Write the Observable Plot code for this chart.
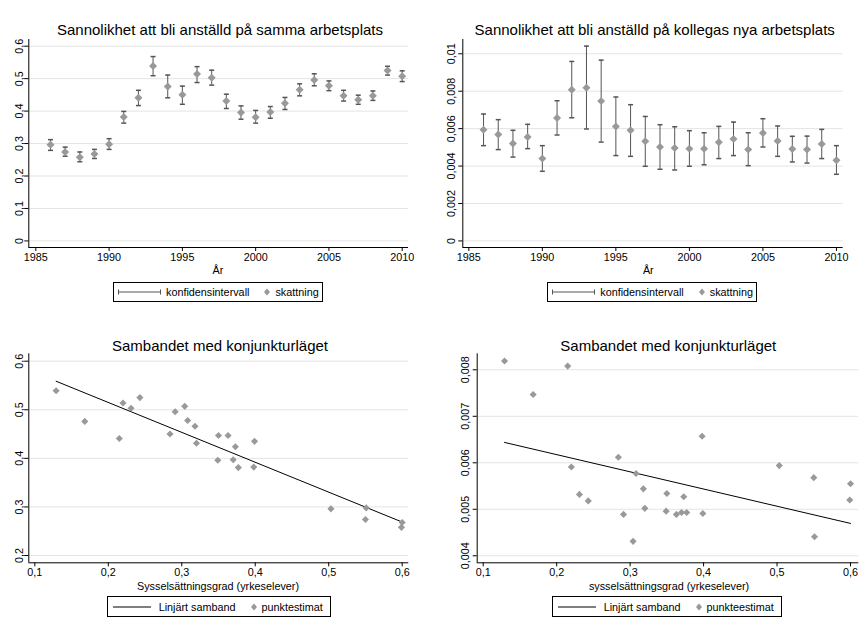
<!DOCTYPE html>
<html><head><meta charset="utf-8">
<script src="https://cdn.jsdelivr.net/npm/d3@7"></script>
<script src="https://cdn.jsdelivr.net/npm/@observablehq/plot@0.6"></script>
<style>
body{margin:0;background:#fff;font-family:"Liberation Sans",Arial,sans-serif;}
#root{position:relative;width:859px;height:625px;overflow:hidden;background:#fff}
.panel{position:absolute}
.title{position:absolute;font-size:15px;color:#000;white-space:nowrap;transform:translate(-50%,-50%)}
.xlab{position:absolute;font-size:10.8px;color:#000;white-space:nowrap;transform:translate(-50%,-50%)}
.legend{position:absolute;border:1px solid #000;box-sizing:border-box;display:flex;align-items:center;font-size:10.8px;white-space:nowrap;background:#fff}
.legend svg{display:block;overflow:visible}
svg{overflow:visible}
</style></head>
<body><div id="root"></div>
<script>
// ---- data ----
const years = [1986,1987,1988,1989,1990,1991,1992,1993,1994,1995,1996,1997,1998,1999,2000,2001,2002,2003,2004,2005,2006,2007,2008,2009,2010];
const sammaEst = [0.296,0.274,0.258,0.268,0.298,0.382,0.441,0.539,0.476,0.450,0.514,0.503,0.431,0.396,0.381,0.397,0.424,0.466,0.496,0.478,0.447,0.435,0.447,0.525,0.507];
const sammaLo  = [0.279,0.261,0.244,0.254,0.282,0.363,0.417,0.509,0.441,0.421,0.488,0.480,0.408,0.375,0.363,0.378,0.405,0.447,0.478,0.463,0.431,0.421,0.433,0.511,0.491];
const sammaHi  = [0.312,0.289,0.274,0.282,0.315,0.399,0.464,0.568,0.511,0.477,0.537,0.526,0.452,0.416,0.402,0.414,0.442,0.484,0.515,0.493,0.464,0.449,0.462,0.538,0.524];
const kollegaEst = [0.00594,0.00568,0.00520,0.00555,0.00441,0.00657,0.00808,0.00819,0.00747,0.00612,0.00591,0.00532,0.00502,0.00496,0.00493,0.00493,0.00527,0.00544,0.00489,0.00577,0.00534,0.00491,0.00489,0.00518,0.00431];
const kollegaLo  = [0.00509,0.00488,0.00448,0.00493,0.00372,0.00566,0.00658,0.00598,0.00528,0.00456,0.00452,0.00399,0.00383,0.00379,0.00399,0.00407,0.00440,0.00456,0.00402,0.00502,0.00452,0.00422,0.00416,0.00440,0.00356];
const kollegaHi  = [0.00678,0.00648,0.00591,0.00623,0.00509,0.00749,0.00959,0.01041,0.00966,0.00769,0.00728,0.00665,0.00621,0.00610,0.00589,0.00578,0.00612,0.00635,0.00578,0.00653,0.00614,0.00559,0.00560,0.00596,0.00509];
const syssGrad = [0.503,0.550,0.599,0.600,0.551,0.398,0.215,0.129,0.168,0.284,0.220,0.231,0.320,0.349,0.377,0.370,0.373,0.318,0.291,0.308,0.350,0.399,0.363,0.243,0.304];

const yearTicks = [1985,1990,1995,2000,2005,2010];
const sammaTicks = [0,0.1,0.2,0.3,0.4,0.5,0.6];
const kollegaTicks = [0,0.002,0.004,0.006,0.008,0.01];
const syssTicks = [0.1,0.2,0.3,0.4,0.5,0.6];
const sambSammaTicks = [0.2,0.3,0.4,0.5,0.6];
const sambKollegaTicks = [0.004,0.005,0.006,0.007,0.008];

const rows = years.map((year, i) => ({
  year, samma: sammaEst[i], sammaLo: sammaLo[i], sammaHi: sammaHi[i],
  kollega: kollegaEst[i], kollegaLo: kollegaLo[i], kollegaHi: kollegaHi[i],
  syss: syssGrad[i]
}));

// ---- helpers ----
const root = document.getElementById("root");
const fmt = d => String(d).replace(".", ",");
const capSymbol = {draw(ctx, size) { const w = Math.sqrt(size / Math.PI); ctx.moveTo(-w, 0); ctx.lineTo(w, 0); }};
const GRID = "#e4e4e4", CI = "#555", MARK = "#999";
const FONT = '"Liberation Sans", Arial, sans-serif';

function panel({left, top, width, height, mL, mR, mT, mB, xDomain, yDomain, xTicks, yTicks, yPad, marks}) {
  const chart = Plot.plot({
    width, height, marginLeft: mL, marginRight: mR, marginTop: mT, marginBottom: mB,
    x: {domain: xDomain, axis: null},
    y: {domain: yDomain, axis: null},
    style: {fontFamily: FONT, fontSize: "10.8px", color: "#000", background: "transparent", overflow: "visible", maxWidth: "none"},
    marks: [
      Plot.gridY(yTicks, {stroke: GRID, strokeOpacity: 1}),
      ...marks,
      Plot.ruleX([xDomain[0]], {stroke: "#000"}),
      Plot.ruleY([yDomain[0]], {stroke: "#000"}),
      Plot.axisX(xTicks, {tickSize: 4, tickPadding: 2, tickFormat: fmt, label: null}),
      Plot.axisY(yTicks, {tickSize: 4, tickPadding: yPad, tickRotate: -90, tickFormat: fmt, label: null})
    ]
  });
  const div = document.createElement("div");
  div.className = "panel";
  div.style.left = left + "px"; div.style.top = top + "px";
  div.appendChild(chart);
  root.appendChild(div);
}

function text(cls, str, x, y) {
  const d = document.createElement("div");
  d.className = cls; d.textContent = str;
  d.style.left = x + "px"; d.style.top = y + "px";
  root.appendChild(d);
}

const NS = "http://www.w3.org/2000/svg";
function svgEl(w, h, inner) {
  const s = document.createElementNS(NS, "svg");
  s.setAttribute("width", w); s.setAttribute("height", h);
  s.innerHTML = inner;
  return s;
}
function legend({left, top, width, height, kind, label1, label2, pad, sw, gap1, gap2, gap3}) {
  const d = document.createElement("div");
  d.className = "legend";
  Object.assign(d.style, {left: left + "px", top: top + "px", width: width + "px", height: height + "px", paddingLeft: pad + "px"});
  const line = kind === "ci"
    ? `<line x1="0.5" y1="5" x2="${sw - 0.5}" y2="5" stroke="${CI}" stroke-width="1"/><line x1="0.5" y1="2.5" x2="0.5" y2="7.5" stroke="${CI}"/><line x1="${sw - 0.5}" y1="2.5" x2="${sw - 0.5}" y2="7.5" stroke="${CI}"/>`
    : `<line x1="0" y1="5" x2="${sw}" y2="5" stroke="#000" stroke-width="1"/>`;
  const s1 = svgEl(sw, 10, line);
  s1.style.marginRight = gap1 + "px";
  const t1 = document.createElement("span"); t1.textContent = label1;
  const s2 = svgEl(8, 10, `<path d="M4,1.5L7,5L4,8.5L1,5Z" fill="${MARK}"/>`);
  s2.style.marginLeft = gap2 + "px"; s2.style.marginRight = gap3 + "px";
  const t2 = document.createElement("span"); t2.textContent = label2;
  d.append(s1, t1, s2, t2);
  root.appendChild(d);
}

// ---- panel 1: samma arbetsplats ----
panel({
  left: 0, top: 0, width: 430, height: 270, mL: 28.3, mR: 22, mT: 39, mB: 23,
  xDomain: [1984.52, 2010.43], yDomain: [-0.0203, 0.6206],
  xTicks: yearTicks, yTicks: sammaTicks, yPad: 2,
  marks: [
    Plot.ruleX(rows, {x: "year", y1: "sammaLo", y2: "sammaHi", stroke: CI}),
    Plot.dot(rows, {x: "year", y: "sammaLo", symbol: capSymbol, r: 2.5, stroke: CI, fill: "none"}),
    Plot.dot(rows, {x: "year", y: "sammaHi", symbol: capSymbol, r: 2.5, stroke: CI, fill: "none"}),
    Plot.dot(rows, {x: "year", y: "samma", symbol: "diamond2", r: 3.6, fill: MARK, stroke: "none"})
  ]
});
text("title", "Sannolikhet att bli anställd på samma arbetsplats", 220, 29.3);
text("xlab", "År", 218, 270);
legend({left: 113, top: 282, width: 210, height: 20, kind: "ci", label1: "konfidensintervall", label2: "skattning", pad: 4, sw: 43, gap1: 5, gap2: 14, gap3: 4});

// ---- panel 2: kollegas nya arbetsplats ----
panel({
  left: 430, top: 0, width: 429, height: 270, mL: 32.3, mR: 16.3, mT: 39, mB: 23,
  xDomain: [1984.59, 2010.46], yDomain: [-0.000352, 0.010763],
  xTicks: yearTicks, yTicks: kollegaTicks, yPad: 4,
  marks: [
    Plot.ruleX(rows, {x: "year", y1: "kollegaLo", y2: "kollegaHi", stroke: CI}),
    Plot.dot(rows, {x: "year", y: "kollegaLo", symbol: capSymbol, r: 2.5, stroke: CI, fill: "none"}),
    Plot.dot(rows, {x: "year", y: "kollegaHi", symbol: capSymbol, r: 2.5, stroke: CI, fill: "none"}),
    Plot.dot(rows, {x: "year", y: "kollega", symbol: "diamond2", r: 3.6, fill: MARK, stroke: "none"})
  ]
});
text("title", "Sannolikhet att bli anställd på kollegas nya arbetsplats", 654.7, 29.3);
text("xlab", "År", 648.3, 270);
legend({left: 547.3, top: 282, width: 210, height: 20, kind: "ci", label1: "konfidensintervall", label2: "skattning", pad: 4, sw: 43, gap1: 5, gap2: 14, gap3: 4});

// ---- panel 3: samband, samma ----
panel({
  left: 0, top: 320, width: 430, height: 260, mL: 28.3, mR: 21.7, mT: 33.3, mB: 17.7,
  xDomain: [0.0918, 0.609], yDomain: [0.185, 0.6152],
  xTicks: syssTicks, yTicks: sambSammaTicks, yPad: 2,
  marks: [
    Plot.linearRegressionY(rows, {x: "syss", y: "samma", stroke: "#000", strokeWidth: 1, ci: 0}),
    Plot.dot(rows, {x: "syss", y: "samma", symbol: "diamond2", r: 3.2, fill: MARK, stroke: "none"})
  ]
});
text("title", "Sambandet med konjunkturläget", 220, 345);
text("xlab", "Sysselsättningsgrad (yrkeselever)", 218, 586);
legend({left: 106.7, top: 596, width: 224, height: 21, kind: "line", label1: "Linjärt samband", label2: "punktestimat", pad: 5, sw: 38, gap1: 8, gap2: 14, gap3: 4});

// ---- panel 4: samband, kollega ----
panel({
  left: 430, top: 320, width: 429, height: 260, mL: 46.7, mR: 0.7, mT: 33.3, mB: 17.7,
  xDomain: [0.0918, 0.6113], yDomain: [0.003849, 0.008344],
  xTicks: syssTicks, yTicks: sambKollegaTicks, yPad: 4,
  marks: [
    Plot.linearRegressionY(rows, {x: "syss", y: "kollega", stroke: "#000", strokeWidth: 1, ci: 0}),
    Plot.dot(rows, {x: "syss", y: "kollega", symbol: "diamond2", r: 3.2, fill: MARK, stroke: "none"})
  ]
});
text("title", "Sambandet med konjunkturläget", 668.3, 345);
text("xlab", "sysselsättningsgrad (yrkeselever)", 669, 586);
legend({left: 551.7, top: 596, width: 230, height: 21, kind: "line", label1: "Linjärt samband", label2: "punkteestimat", pad: 5, sw: 38, gap1: 8, gap2: 14, gap3: 4});
</script>
</body></html>
